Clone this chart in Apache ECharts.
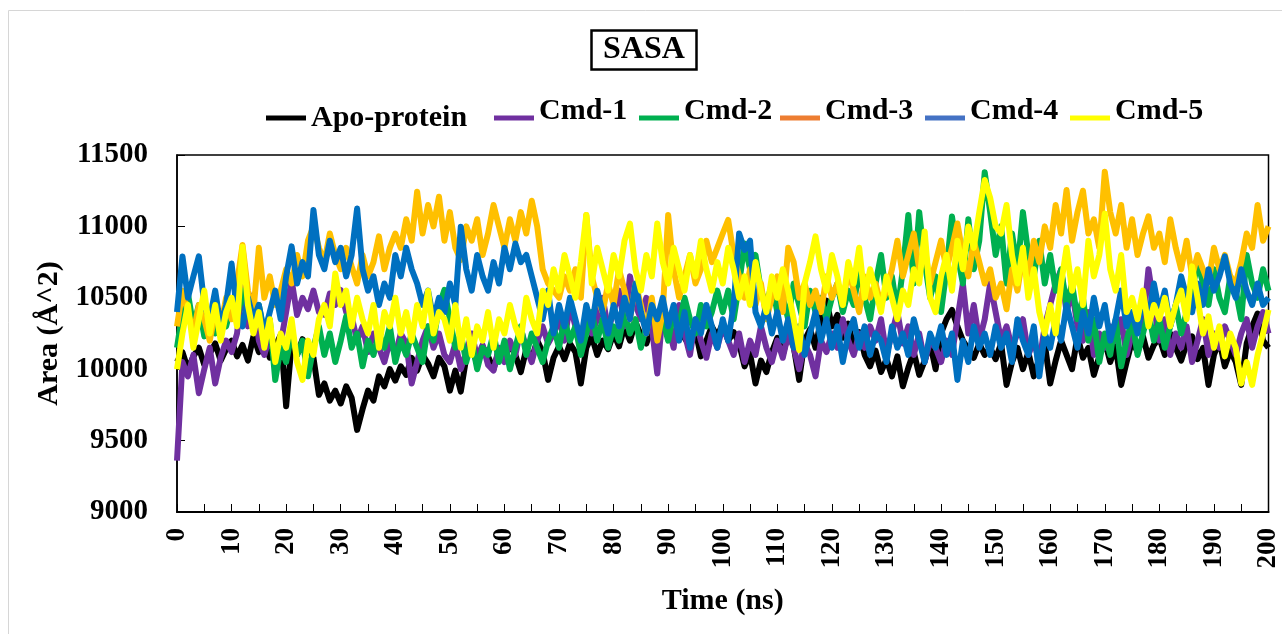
<!DOCTYPE html>
<html>
<head>
<meta charset="utf-8">
<script src="https://cdn.jsdelivr.net/npm/echarts@6/dist/echarts.min.js"></script>
<style>
html,body{margin:0;padding:0;background:#fff;}
#chart{width:1282px;height:634px;}
</style>
</head>
<body>
<div id="chart"></div>
<script>
// Time axis (ns), one sample per ns
const times = [];
for (let t = 0; t <= 200; t++) times.push(t);

const seriesNames = ['Apo-protein', 'Cmd-1', 'Cmd-2', 'Cmd-3', 'Cmd-4', 'Cmd-5'];
const lineColors = ['#000000', '#7030A0', '#00B050', '#FFC000', '#0070C0', '#FFFF00'];
const legendColors = ['#000000', '#7030A0', '#00B050', '#ED7D31', '#4472C4', '#FFFF00'];

const apoProtein = [
10050,10120,10000,10090,10150,10030,10110,10180,10060,10140,
10200,10090,10170,10060,10230,10120,10190,10080,10160,10240,
9740,10180,10100,10210,10140,10080,9820,9900,9780,9850,
9760,9880,9800,9575,9720,9850,9780,9950,9880,10000,
9920,10020,9960,10080,9990,10100,10040,9950,10080,10020,
9850,9990,9843,10080,10150,10040,10160,10090,10000,10140,
10060,10180,10100,9980,10140,10070,10200,10120,9925,10080,
10160,10070,10180,10120,9900,10150,10230,10100,10200,10140,
10250,10160,10300,10200,10330,10240,10180,10290,10210,10320,
10240,10180,10300,10220,10160,10270,10090,10200,10300,10230,
10320,10200,10260,10180,10020,10110,9900,10060,9980,10120,
10220,10100,10250,10160,9925,10200,10280,10150,10350,10480,
10300,10380,10220,10320,10150,10260,10100,10020,10130,9980,
10070,9950,10090,9880,10010,10120,9960,10060,10180,10000,
10250,10350,10415,10300,10200,10140,10080,10180,10100,10150,
10070,10180,9890,10050,10150,10000,10120,9950,10080,10180,
9900,10060,10200,10100,10000,10230,10080,10150,9960,10090,
10200,10050,10160,9890,10050,10200,10120,10230,10080,10170,
10220,10100,10250,10150,10060,10180,10230,10070,10150,9890,
10100,10200,10020,10130,10050,9890,10180,10300,10390,10200,
10150];

const cmd1 = [
9360,10050,9950,10100,9832,10000,10150,9900,10080,10200,
10120,10250,10578,10300,10520,10200,10100,10230,10080,10180,
10400,10625,10380,10500,10420,10550,10400,10380,10530,10450,
10555,10400,10370,10200,10300,10120,10250,10150,10050,10200,
10100,10250,10180,9900,10050,10200,10300,10150,10250,10100,
10050,10180,10000,10120,10250,10080,10170,10030,9990,10150,
10050,10200,10100,10280,10150,10050,10200,10300,10180,10250,
10350,10200,10450,10300,10150,10400,10250,10350,10500,10280,
10400,10550,10300,10650,10450,10350,10500,10300,9970,10400,
10300,10150,10450,10250,10100,10350,10200,10080,10250,10150,
10300,10200,10100,10250,10050,10200,10100,10300,10150,10050,
10200,10080,10250,10150,10000,10180,10100,9950,10200,10120,
10250,10150,10350,10200,10100,10250,10150,10300,10200,10350,
10100,10250,10400,10180,10300,10100,10250,10050,10200,10150,
10050,10200,10100,10350,10600,10250,10450,10200,10350,10600,
10400,10200,10300,10150,10250,10350,10100,10200,10050,10300,
10450,10600,10695,10400,10550,10300,10200,10400,10100,10250,
10150,10300,10200,10350,10100,10250,10400,10300,10700,10450,
10200,10350,10100,10250,10150,10300,10050,10200,10350,10100,
10250,10150,10300,10200,10100,10250,10350,10150,10300,10400,
10250];

const cmd2 = [
10150,10400,10530,10300,10450,10230,10350,10250,10400,10300,
10450,10350,10550,10400,10300,10450,10250,10350,9925,10150,
10050,10250,10100,10200,9950,10150,10300,10100,10250,10050,
10200,10370,10150,10250,10020,10200,10100,10250,10150,10300,
10050,10200,10100,10250,10150,10050,10300,10200,10440,10555,
10350,10150,10250,10050,10200,10000,10150,10100,10250,10050,
10200,10000,10150,10300,10100,10250,10150,10050,10200,10300,
10150,10350,10200,10300,10100,10250,10400,10200,10350,10150,
10300,10200,10400,10250,10350,10150,10300,10450,10250,10350,
10200,10400,10300,10500,10350,10250,10450,10300,10400,10550,
10400,10550,10350,10600,10880,10700,10800,10550,10450,10600,
10400,10500,10350,10600,10450,10300,10550,10400,10500,10350,
10500,10600,10400,10550,10450,10700,10500,10350,10600,10800,
10500,10650,10400,10700,11080,10600,11100,10750,10500,10650,
10400,10700,11070,10800,10600,11050,10700,10900,11380,11100,
10800,11000,10600,10950,10700,11100,10800,10650,10900,10600,
10800,10550,10700,10450,10600,10350,10500,10200,10350,10050,
10250,10100,10350,10020,10200,10350,10100,10250,10400,10200,
10350,10150,10300,10450,10250,10400,10550,10750,10600,10450,
10700,10500,10400,10650,10550,10350,10800,10600,10500,10700,
10550];

const cmd3 = [
10300,10550,10400,10250,10450,10350,10200,10400,10300,10500,
10350,10600,10870,10550,10400,10850,10500,10650,10450,10550,
10700,10600,10800,10650,10900,11000,10850,10750,10950,10800,
10700,10850,10720,10600,10800,10650,10750,10930,10700,10850,
10950,10850,11050,10900,11243,10950,11150,11000,11208,10900,
11100,10850,10765,11000,10900,11050,10800,10950,11150,11000,
10850,11050,10900,11100,10950,11180,11000,10700,10600,10550,
10500,10650,10550,10700,10500,11080,10650,10500,10400,10600,
10450,10700,10550,10350,10600,10450,10250,10500,10200,10400,
11080,10700,10500,10650,10800,10600,10700,10900,10750,10850,
10950,11045,10800,10650,10500,10700,10450,10600,10350,10500,
10650,10400,10850,10750,10500,10600,10450,10550,10400,10650,
10500,10600,10450,10700,10550,10400,10650,10500,10600,10450,
10550,10700,10900,10650,10800,10950,10700,10850,10600,10750,
10900,10700,10850,11020,10800,10650,10900,10750,10600,10700,
10500,10600,10420,10700,10550,10800,10650,10900,10750,11000,
10850,11150,10950,11255,10900,11100,11250,10950,11050,10850,
11383,11100,10950,11150,10850,11050,10800,10950,11070,10850,
10950,10750,11050,10850,10700,10900,10650,10800,10700,10600,
10850,10700,10800,10650,10600,10750,10950,10850,11150,10900,
11000];

const cmd4 = [
10400,10790,10500,10650,10790,10450,10350,10550,10300,10450,
10740,10400,10300,10500,10350,10450,10250,10400,10550,10350,
10650,10860,10600,10750,10650,11115,10800,10700,10900,10750,
10850,10650,10800,11125,10700,10550,10650,10450,10600,10500,
10800,10650,10850,10700,10600,10450,10550,10350,10500,10400,
10600,10450,10998,10700,10550,10800,10650,10550,10750,10600,
10850,10700,10880,10750,10800,10650,10500,10350,10550,10250,
10450,10300,10500,10350,10200,10450,10300,10550,10400,10250,
10450,10300,10500,10350,10600,10400,10250,10450,10350,10500,
10300,10450,10200,10400,10150,10350,10250,10450,10300,10150,
10350,10200,10450,10950,10835,10900,10400,10300,10450,10250,
10400,10200,10350,10150,10300,10100,10250,10400,10200,10350,
10150,10300,10050,10250,10350,10150,10300,10100,10250,10200,
10050,10300,10150,10250,10100,10350,10200,10050,10250,10150,
10300,10100,10250,9925,10200,10050,10300,10150,10250,10100,
10300,10150,10250,10050,10350,10200,10100,10300,9950,10250,
10150,10350,10200,10450,10300,10150,10400,10250,10500,10300,
10450,10200,10350,10550,10300,10400,10250,10500,10350,10600,
10400,10550,10300,10450,10650,10500,10400,10600,10450,10700,
10550,10650,10790,10600,10500,10700,10550,10450,10600,10450,
10500];

const cmd5 = [
10000,10250,10450,10150,10350,10550,10250,10450,10200,10400,
10500,10300,10858,10450,10250,10400,10150,10350,10050,10250,
10150,10350,10050,9925,10200,10100,10350,10450,10300,10670,
10450,10550,10300,10500,10350,10250,10450,10150,10400,10300,
10500,10250,10400,10200,10450,10300,10550,10250,10400,10350,
10200,10450,10150,10350,10100,10300,10200,10400,10150,10350,
10250,10450,10300,10200,10500,10350,10250,10550,10450,10700,
10550,10800,10650,10500,10750,11080,10600,10850,10700,10550,
10800,10650,10900,11020,10700,10550,10800,10650,11020,10750,
10600,10850,10700,10550,10800,10650,10900,10700,10550,10750,
10600,10850,10700,10500,10650,10450,10750,10550,10400,10650,
10500,10700,10550,10350,10135,10600,10750,10930,10700,10550,
10800,10650,10450,10750,10600,10850,10500,10700,10550,10400,
10650,10500,10350,10550,10450,10700,10600,10965,10500,10400,
10650,10800,10550,10900,10700,11000,10850,11100,11325,11200,
11000,10950,11150,10800,10600,10850,10500,10700,10400,10250,
10450,10250,10600,10850,10550,10700,10450,10900,10650,10800,
11090,10700,10550,10800,10400,10500,10350,10550,10300,10450,
10350,10500,10300,10450,10550,10350,10720,10500,10250,10370,
10150,10300,10090,10250,10150,9900,10050,9890,10100,10250,
10415];

const seriesValues = [apoProtein, cmd1, cmd2, cmd3, cmd4, cmd5];

const yTicks = { min: 9000, max: 11500, interval: 500 };
const xTicks = { min: 0, max: 200, interval: 10 };

const serif = "'Liberation Serif', 'Times New Roman', serif";

// legend: one per item to place them like the reference
const legendLefts = [261, 489, 634, 775, 920, 1065];
const legendTops = [98, 91, 91, 91, 91, 91];
const legendText = { fontFamily: serif, fontWeight: 'bold', fontSize: 30, color: '#000' };
const legends = seriesNames.map((n, i) => ({
  left: legendLefts[i],
  top: legendTops[i],
  icon: 'rect',
  itemWidth: 40,
  itemHeight: 5,
  itemGap: 0,
  data: [{ name: n, itemStyle: { color: legendColors[i] } }],
  formatter: i === 0 ? '{t|{name}}' : '{t|{name}}\n{s| }',
  textStyle: Object.assign({}, legendText, {
    rich: {
      t: Object.assign({}, legendText, { height: 30, lineHeight: 30 }),
      s: { fontSize: 10, height: 14, lineHeight: 14 }
    }
  }),
  selectedMode: false
}));

const chart = echarts.init(document.getElementById('chart'), null, { renderer: 'canvas' });
chart.setOption({
  animation: false,
  backgroundColor: '#fff',
  graphic: [{
    type: 'rect',
    shape: { x: 8.5, y: 10.5, width: 1300, height: 700 },
    style: { fill: 'none', stroke: '#d6d6d6', lineWidth: 1 },
    silent: true, z: -10
  }],
  title: {
    text: 'SASA',
    left: 591,
    top: 30,
    padding: [4, 12, 4, 12],
    borderColor: '#000',
    borderWidth: 2.5,
    textStyle: { fontFamily: serif, fontWeight: 'bold', fontSize: 32, color: '#000' }
  },
  legend: legends,
  grid: {
    left: 177, right: 11, top: 155, bottom: 122,
    show: true, borderColor: '#000', borderWidth: 1.5, backgroundColor: 'transparent'
  },
  xAxis: {
    type: 'value',
    min: xTicks.min, max: xTicks.max, interval: xTicks.interval,
    name: 'Time (ns)',
    nameLocation: 'middle',
    nameGap: 74,
    nameTextStyle: { fontFamily: serif, fontWeight: 'bold', fontSize: 30, color: '#000' },
    axisLine: { show: true, lineStyle: { color: '#000', width: 2 } },
    axisTick: { show: true, inside: true, length: 8, lineStyle: { color: '#000', width: 1 } },
    minorTick: { show: true, splitNumber: 2, length: 8, lineStyle: { color: '#000', width: 1 } },
    axisLabel: { rotate: 90, margin: 16, fontFamily: serif, fontWeight: 'bold', fontSize: 27, color: '#000' },
    splitLine: { show: false }
  },
  yAxis: {
    type: 'value',
    min: yTicks.min, max: yTicks.max, interval: yTicks.interval,
    name: 'Area (Å^2)',
    nameLocation: 'middle',
    nameGap: 110,
    nameTextStyle: { fontFamily: serif, fontWeight: 'bold', fontSize: 30, color: '#000' },
    axisLine: { show: true, lineStyle: { color: '#000', width: 1.5 } },
    axisTick: { show: true, inside: true, length: 8, lineStyle: { color: '#000', width: 1 } },
    axisLabel: { margin: 29, fontFamily: serif, fontWeight: 'bold', fontSize: 29, color: '#000', formatter: (v) => String(v) },
    splitLine: { show: false }
  },
  series: seriesNames.map((n, i) => ({
    name: n,
    type: 'line',
    showSymbol: false,
    symbol: 'none',
    data: times.map((t, k) => [t, seriesValues[i][k]]),
    lineStyle: { color: lineColors[i], width: 6, join: 'round' },
    itemStyle: { color: legendColors[i] },
    z: 2 + i
  }))
});
</script>
</body>
</html>
